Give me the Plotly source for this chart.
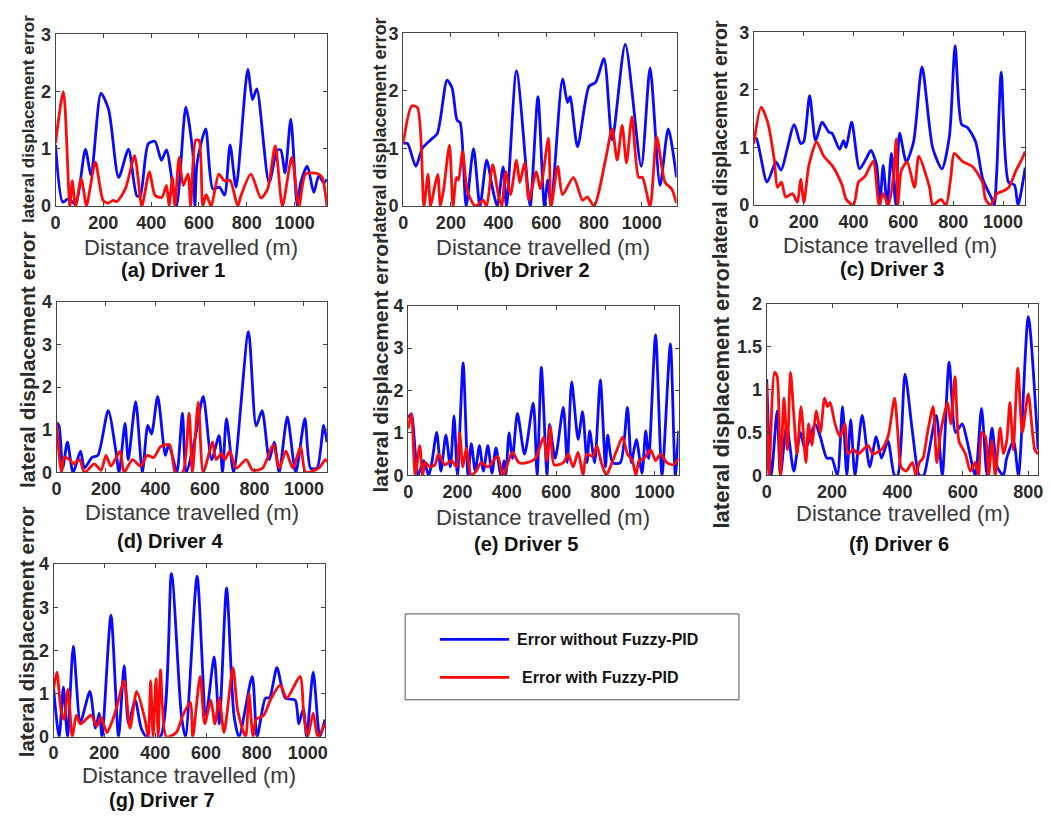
import plotly.graph_objects as go

# ---------------- data ----------------
# Driver 1
d1_x_wo = [0, 30, 50, 64, 85, 125, 149, 190, 222, 264, 305, 340, 354, 388, 416, 443, 464, 506, 545, 575, 583, 592, 628, 658, 686, 707, 730, 755, 804, 824, 842, 893, 928, 942, 960, 984, 1011, 1025, 1053, 1080, 1101, 1122, 1135]
d1_y_wo = [1.07, 0.07, 0.12, 0.10, 0.03, 0.99, 0.54, 1.97, 1.69, 0.50, 0.99, 0.18, 0.18, 1.09, 1.13, 0.80, 0.98, 0.00, 1.73, 0.90, 0.00, 0.75, 1.35, 0.30, 0.33, 0.19, 1.07, 0.33, 2.39, 1.86, 2.05, 0.41, 0.98, 0.98, 0.58, 1.52, 0.00, 0.40, 0.70, 0.24, 0.53, 0.41, 0.47]
d1_x_w = [0, 33, 60, 70, 84, 107, 130, 144, 167, 199, 220, 240, 256, 292, 331, 345, 361, 393, 416, 444, 464, 475, 489, 499, 517, 534, 554, 565, 586, 600, 616, 630, 651, 683, 707, 730, 762, 776, 817, 859, 887, 919, 949, 988, 1018, 1046, 1094, 1115, 1135]
d1_y_w = [1.10, 2.00, 0.00, 0.44, 0.00, 0.48, 0.00, 0.30, 0.77, 0.10, 0.05, 0.10, 0.08, 0.30, 0.88, 0.50, 0.00, 0.60, 0.19, 0.15, 0.36, 0.00, 0.50, 0.00, 0.85, 0.36, 0.56, 0.00, 1.15, 1.15, 0.00, 0.20, 0.00, 0.56, 0.44, 0.45, 0.00, 0.19, 0.56, 0.14, 0.30, 1.05, 0.00, 0.85, 0.00, 0.56, 0.57, 0.50, 0.00]

# Driver 2
d2_x_wo = [0, 18, 53, 80, 115, 143, 184, 205, 226, 239, 264, 295, 322, 350, 375, 394, 419, 433, 475, 523, 533, 565, 592, 606, 620, 668, 689, 700, 731, 779, 807, 842, 876, 931, 998, 1035, 1077, 1111, 1146]
d2_y_wo = [1.09, 1.09, 0.69, 1.00, 1.15, 1.26, 2.19, 2.05, 1.49, 1.45, 0.00, 1.00, 0.00, 0.80, 0.30, 0.00, 0.68, 0.00, 2.35, 0.30, 0.00, 1.90, 0.00, 0.45, 0.00, 2.21, 1.80, 1.90, 1.03, 2.08, 2.15, 2.56, 1.15, 2.81, 0.69, 2.40, 0.36, 1.34, 0.50]
d2_x_w = [0, 36, 60, 87, 104, 115, 130, 145, 156, 170, 194, 209, 223, 232, 249, 267, 285, 302, 336, 350, 375, 399, 413, 430, 450, 475, 489, 509, 527, 558, 575, 609, 620, 648, 668, 714, 752, 772, 800, 848, 876, 897, 918, 936, 959, 987, 1003, 1035, 1063, 1098, 1125, 1146]
d2_y_w = [1.09, 1.74, 1.71, 0.00, 0.55, 0.00, 0.30, 0.55, 0.00, 0.30, 1.06, 0.00, 0.50, 0.45, 0.95, 0.30, 0.10, 0.00, 0.10, 0.00, 0.72, 0.20, 0.00, 0.60, 0.20, 0.80, 0.41, 0.75, 0.10, 0.60, 0.30, 1.18, 0.00, 0.69, 0.20, 0.50, 0.10, 0.16, 0.00, 0.80, 1.34, 0.80, 1.40, 0.75, 1.55, 0.50, 0.50, 0.00, 1.20, 0.41, 0.30, 0.05]

# Driver 3
d3_x_wo = [0, 10, 53, 89, 109, 162, 188, 200, 224, 248, 274, 301, 314, 344, 360, 370, 393, 424, 450, 470, 493, 506, 519, 535, 552, 570, 585, 612, 641, 675, 718, 755, 785, 808, 834, 857, 890, 919, 956, 965, 975, 993, 1022, 1046, 1060, 1089]
d3_y_wo = [1.16, 1.16, 0.40, 0.75, 0.61, 1.40, 1.07, 1.10, 1.90, 1.12, 1.44, 1.27, 1.25, 0.97, 1.12, 1.00, 1.44, 0.63, 0.80, 0.95, 0.69, 0.00, 0.69, 0.00, 0.90, 0.00, 1.25, 0.75, 1.10, 2.40, 0.99, 0.63, 1.20, 2.77, 1.40, 1.35, 1.10, 0.45, 0.10, 0.00, 0.60, 2.31, 0.40, 0.35, 0.00, 0.65]
d3_x_w = [0, 29, 55, 82, 95, 111, 128, 155, 175, 188, 201, 221, 252, 281, 314, 354, 371, 400, 420, 446, 479, 503, 519, 540, 559, 572, 578, 592, 615, 645, 662, 705, 718, 751, 771, 791, 804, 837, 877, 917, 930, 950, 976, 1003, 1023, 1052, 1075, 1089]
d3_y_w = [1.07, 1.70, 1.45, 0.79, 0.31, 0.40, 0.14, 0.20, 0.05, 0.45, 0.05, 0.69, 1.10, 0.85, 0.69, 0.35, 0.10, 0.00, 0.40, 0.50, 0.76, 0.00, 0.20, 0.00, 0.45, 1.15, 0.00, 0.60, 0.75, 0.31, 0.85, 0.31, 0.00, 0.10, 0.00, 0.50, 0.90, 0.76, 0.67, 0.40, 0.10, 0.00, 0.20, 0.25, 0.31, 0.60, 0.79, 0.93]

# Driver 4
d4_x_wo = [0, 10, 25, 44, 67, 97, 113, 143, 167, 209, 240, 253, 277, 290, 320, 347, 369, 384, 409, 440, 453, 470, 487, 509, 524, 560, 593, 627, 657, 671, 687, 716, 776, 807, 831, 860, 880, 900, 933, 967, 1004, 1027, 1053, 1080, 1093]
d4_y_wo = [1.17, 1.10, 0.10, 0.71, 0.00, 0.50, 0.10, 0.35, 0.40, 1.45, 0.50, 0.00, 1.15, 0.30, 1.66, 0.00, 1.10, 0.90, 1.78, 0.40, 0.65, 0.35, 0.00, 1.39, 0.00, 0.80, 1.78, 0.30, 0.86, 0.00, 1.26, 0.00, 3.30, 1.09, 1.45, 0.30, 0.71, 0.00, 1.30, 0.00, 1.26, 0.10, 0.10, 1.10, 0.71]
d4_x_w = [0, 20, 31, 53, 70, 93, 113, 153, 180, 200, 220, 257, 273, 307, 340, 367, 393, 420, 457, 470, 480, 510, 536, 549, 573, 593, 631, 645, 667, 680, 700, 727, 767, 793, 833, 876, 900, 927, 955, 987, 1007, 1060, 1087, 1093]
d4_y_w = [1.17, 0.00, 0.35, 0.30, 0.20, 0.30, 0.00, 0.20, 0.05, 0.40, 0.15, 0.50, 0.00, 0.30, 0.15, 0.40, 0.35, 0.60, 0.65, 0.30, 0.00, 0.00, 1.39, 0.00, 1.65, 0.00, 0.71, 0.30, 0.45, 0.30, 0.50, 0.10, 0.30, 0.05, 0.10, 0.65, 0.10, 0.50, 0.10, 0.60, 0.00, 0.10, 0.30, 0.25]

# Driver 5
d5_x_wo = [0, 13, 40, 63, 83, 96, 116, 133, 153, 171, 186, 200, 223, 243, 256, 272, 289, 305, 323, 340, 356, 376, 389, 396, 409, 423, 443, 472, 507, 523, 540, 563, 573, 596, 629, 645, 663, 689, 707, 725, 736, 756, 779, 800, 809, 829, 860, 889, 905, 925, 948, 963, 975, 1003, 1029, 1063, 1083, 1096]
d5_y_wo = [1.35, 1.45, 0.00, 0.35, 0.00, 0.30, 1.01, 0.10, 0.95, 0.20, 1.40, 0.00, 2.65, 0.00, 0.75, 0.10, 0.70, 0.10, 0.70, 0.05, 0.65, 0.00, 0.35, 0.00, 1.00, 0.40, 1.46, 0.50, 1.70, 0.00, 2.55, 0.00, 1.20, 0.40, 1.60, 0.30, 2.20, 0.85, 1.50, 0.30, 1.05, 0.30, 2.25, 0.20, 0.95, 0.30, 0.30, 1.60, 0.30, 0.85, 0.05, 1.05, 0.40, 3.31, 0.00, 3.10, 0.00, 1.05]
d5_x_w = [0, 13, 29, 47, 59, 69, 89, 109, 123, 149, 176, 196, 209, 222, 236, 256, 276, 296, 323, 363, 383, 396, 423, 449, 483, 516, 549, 563, 576, 592, 629, 649, 669, 689, 709, 723, 749, 765, 783, 803, 816, 843, 869, 889, 909, 923, 936, 956, 983, 1003, 1023, 1049, 1076, 1096]
d5_y_w = [1.10, 1.46, 0.00, 0.70, 0.00, 0.30, 0.20, 0.25, 0.50, 0.25, 0.35, 0.20, 1.00, 0.20, 0.65, 0.00, 0.10, 0.30, 0.20, 0.45, 0.00, 0.15, 0.55, 0.30, 0.30, 0.40, 0.90, 0.35, 1.15, 0.25, 0.30, 0.50, 0.20, 0.55, 0.00, 0.50, 0.45, 0.70, 0.30, 0.00, 0.15, 0.55, 0.90, 0.50, 0.35, 0.00, 0.35, 0.40, 0.60, 0.35, 0.50, 0.30, 0.25, 0.40]

# Driver 6
d6_x_wo = [0, 14, 32, 42, 61, 83, 103, 118, 148, 164, 184, 199, 216, 232, 245, 257, 270, 292, 315, 335, 351, 371, 391, 401, 423, 446, 467, 480, 495, 519, 537, 558, 578, 598, 613, 638, 657, 674, 689, 705, 724, 734, 755, 770, 800, 830]
d6_y_wo = [1.12, 0.00, 0.75, 0.00, 0.58, 0.05, 0.50, 0.30, 0.60, 0.45, 0.20, 0.20, 0.00, 0.80, 0.00, 0.65, 0.00, 0.70, 0.10, 0.45, 0.20, 0.40, 0.00, 0.00, 1.18, 0.50, 0.00, 0.00, 0.25, 0.70, 0.00, 1.32, 0.50, 0.60, 0.40, 0.00, 0.78, 0.00, 0.55, 0.10, 0.00, 0.20, 0.40, 0.00, 1.85, 0.30]
d6_x_w = [0, 7, 24, 32, 42, 53, 63, 73, 83, 93, 105, 120, 128, 138, 152, 164, 177, 186, 194, 209, 224, 239, 249, 265, 280, 295, 310, 325, 351, 371, 391, 401, 411, 426, 446, 456, 467, 478, 492, 509, 520, 532, 553, 563, 576, 588, 608, 623, 638, 648, 658, 669, 679, 689, 699, 714, 724, 734, 744, 754, 768, 782, 800, 820, 830]
d6_y_w = [1.08, 0.00, 1.20, 1.15, 0.00, 0.90, 0.30, 1.20, 0.70, 0.25, 0.80, 0.15, 0.60, 0.35, 0.75, 0.50, 0.90, 0.80, 0.85, 0.60, 0.45, 0.60, 0.25, 0.30, 0.25, 0.30, 0.35, 0.25, 0.30, 0.45, 0.90, 0.50, 0.10, 0.05, 0.15, 0.00, 0.15, 0.20, 0.50, 0.80, 0.15, 0.50, 0.85, 0.60, 1.15, 0.40, 0.25, 0.05, 0.15, 0.00, 0.50, 0.45, 0.00, 0.40, 0.00, 0.55, 0.25, 0.40, 0.85, 0.30, 1.25, 0.50, 0.95, 0.30, 0.25]

# Driver 7
d7_x_wo = [0, 22, 39, 55, 78, 106, 143, 165, 180, 191, 226, 256, 278, 295, 321, 345, 366, 420, 464, 503, 519, 565, 600, 632, 652, 681, 710, 730, 782, 801, 834, 850, 879, 912, 951, 965, 983, 996, 1022, 1048, 1068]
d7_y_wo = [1.13, 0.00, 1.15, 0.00, 2.10, 0.35, 1.05, 0.20, 0.55, 0.00, 2.82, 0.00, 1.65, 0.30, 0.85, 0.20, 0.00, 0.00, 3.78, 0.50, 0.00, 3.72, 0.50, 1.85, 0.30, 3.45, 0.50, 0.00, 1.40, 0.00, 0.90, 0.90, 1.60, 0.90, 0.85, 0.30, 0.65, 0.00, 1.50, 0.00, 0.40]
d7_x_w = [0, 13, 30, 42, 57, 74, 90, 106, 148, 170, 187, 210, 230, 249, 278, 301, 327, 360, 373, 382, 392, 403, 412, 421, 444, 483, 509, 538, 548, 577, 595, 619, 635, 652, 671, 706, 725, 756, 769, 785, 797, 827, 857, 892, 918, 970, 985, 1000, 1022, 1040, 1068]
d7_y_w = [1.10, 1.50, 0.60, 0.40, 1.10, 0.00, 0.50, 0.30, 0.50, 0.25, 0.45, 0.10, 0.35, 0.70, 1.30, 0.20, 1.05, 0.40, 0.00, 1.30, 0.00, 1.35, 0.00, 1.55, 0.00, 0.10, 0.50, 0.80, 0.00, 1.40, 0.30, 0.85, 0.30, 0.90, 0.10, 1.60, 0.60, 0.00, 1.00, 0.00, 0.40, 0.50, 0.90, 1.20, 0.90, 1.40, 0.50, 0.00, 0.55, 0.00, 0.30]

captions = ["(a) Driver 1", "(b) Driver 2", "(c) Driver 3", "(d) Driver 4",
            "(e) Driver 5", "(f) Driver 6", "(g) Driver 7"]
x_ticks_long = [0, 200, 400, 600, 800, 1000]
x_ticks_short = [0, 200, 400, 600, 800]
y_ticks_3 = [0, 1, 2, 3]
y_ticks_4 = [0, 1, 2, 3, 4]
y_ticks_2 = [0, 0.5, 1, 1.5, 2]
legend_names = ["Error without Fuzzy-PID", "Error with Fuzzy-PID"]

series = [
    (d1_x_wo, d1_y_wo, d1_x_w, d1_y_w),
    (d2_x_wo, d2_y_wo, d2_x_w, d2_y_w),
    (d3_x_wo, d3_y_wo, d3_x_w, d3_y_w),
    (d4_x_wo, d4_y_wo, d4_x_w, d4_y_w),
    (d5_x_wo, d5_y_wo, d5_x_w, d5_y_w),
    (d6_x_wo, d6_y_wo, d6_x_w, d6_y_w),
    (d7_x_wo, d7_y_wo, d7_x_w, d7_y_w),
]

# ---------------- layout geometry (pixels) ----------------
W, H = 1051, 821
# left, right, top, bottom of each plot area
boxes = [
    (51, 325, 25, 201),
    (402, 678, 24, 201),
    (756, 1030, 23, 200),
    (52, 325, 299, 474),
    (407, 680, 303, 477),
    (769, 1043, 301, 477),
    (49, 323, 568, 745),
]
x_ranges = [1135, 1146, 1089, 1093, 1096, 830, 1068]
y_ranges = [3, 3, 3, 4, 4, 2, 4]
y_tick_sets = [y_ticks_3, y_ticks_3, y_ticks_3, y_ticks_4, y_ticks_4, y_ticks_2, y_ticks_4]
x_tick_sets = [x_ticks_long] * 5 + [x_ticks_short] + [x_ticks_long]
# annotation positions (pixels) and y-label sizes (sub-figures were scaled differently)
ylab_pos = [(23, 112), (379, 120), (722, 133), (22, 358), (379, 363), (723, 394), (22, 637)]
ylab_size = [17, 18, 19.5, 21, 21, 22, 20.5]
xtitle_pos = [(188, 243), (543, 243), (893, 241), (189, 515), (543, 520), (907, 516), (186, 785)]
caption_pos = [(170, 267), (537, 266), (896, 265), (167, 544), (527, 547), (903, 547), (159, 810)]

BLUE = "#0a0aff"
RED = "#ff0a0a"
FONT = "Liberation Sans, Arial, sans-serif"
AX_COL = "#444444"
TXT_COL = "#2a2a2a"
LW = 2.8

fig = go.Figure()
layout = {}
annotations = []

def px(x):
    return x / W

def py(y):
    return 1 - y / H

for i, (xs_wo, ys_wo, xs_w, ys_w) in enumerate(series):
    n = i + 1
    xa = "x" if n == 1 else f"x{n}"
    ya = "y" if n == 1 else f"y{n}"
    l, r, t, b = boxes[i]
    fig.add_trace(go.Scatter(x=xs_wo, y=ys_wo, mode="lines", xaxis=xa, yaxis=ya,
                             line=dict(color=BLUE, width=LW, shape="spline", smoothing=0.7),
                             name=legend_names[0], showlegend=False, hoverinfo="skip"))
    fig.add_trace(go.Scatter(x=xs_w, y=ys_w, mode="lines", xaxis=xa, yaxis=ya,
                             line=dict(color=RED, width=LW, shape="spline", smoothing=0.7),
                             name=legend_names[1], showlegend=False, hoverinfo="skip"))
    tickfont = dict(family=FONT, size=18, color=TXT_COL, weight="bold")
    layout[f"xaxis{'' if n == 1 else n}"] = dict(
        domain=[px(l), px(r)], anchor=ya, range=[0, x_ranges[i]],
        tickvals=x_tick_sets[i], ticks="inside", ticklen=4, tickcolor=AX_COL,
        showline=True, linecolor=AX_COL, linewidth=1, mirror="ticks",
        showgrid=False, zeroline=False, tickfont=tickfont, fixedrange=True)
    layout[f"yaxis{'' if n == 1 else n}"] = dict(
        domain=[py(b), py(t)], anchor=xa, range=[0, y_ranges[i]],
        tickvals=y_tick_sets[i], ticks="inside", ticklen=4, tickcolor=AX_COL,
        showline=True, linecolor=AX_COL, linewidth=1, mirror="ticks",
        showgrid=False, zeroline=False, tickfont=tickfont, fixedrange=True)
    yx, yy = ylab_pos[i]
    annotations.append(dict(text="lateral displacement error", x=px(yx), y=py(yy),
                            xref="paper", yref="paper", showarrow=False, textangle=-90,
                            xanchor="center", yanchor="middle",
                            font=dict(family=FONT, size=ylab_size[i], color=TXT_COL, weight="bold")))
    tx, ty = xtitle_pos[i]
    annotations.append(dict(text="Distance travelled (m)", x=px(tx), y=py(ty),
                            xref="paper", yref="paper", showarrow=False,
                            xanchor="center", yanchor="middle",
                            font=dict(family=FONT, size=22, color="#3a3a3a")))
    cx, cy = caption_pos[i]
    annotations.append(dict(text=captions[i], x=px(cx), y=py(cy),
                            xref="paper", yref="paper", showarrow=False,
                            xanchor="center", yanchor="middle",
                            font=dict(family=FONT, size=20, color="#111111", weight="bold")))

# legend box (drawn)
shapes = [
    dict(type="rect", xref="paper", yref="paper", x0=px(404), x1=px(741), y0=py(707), y1=py(619),
         line=dict(color="#555555", width=1), fillcolor="white"),
    dict(type="line", xref="paper", yref="paper", x0=px(439), x1=px(509), y0=py(645), y1=py(645),
         line=dict(color=BLUE, width=LW)),
    dict(type="line", xref="paper", yref="paper", x0=px(439), x1=px(509), y0=py(684), y1=py(684),
         line=dict(color=RED, width=LW)),
]
annotations.append(dict(text=legend_names[0], x=px(515), y=py(645), xref="paper", yref="paper",
                        showarrow=False, xanchor="left", yanchor="middle",
                        font=dict(family=FONT, size=16, color="#111111", weight="bold")))
annotations.append(dict(text=legend_names[1], x=px(520), y=py(684), xref="paper", yref="paper",
                        showarrow=False, xanchor="left", yanchor="middle",
                        font=dict(family=FONT, size=16, color="#111111", weight="bold")))

fig.update_layout(**layout)
fig.update_layout(width=W, height=H, margin=dict(l=0, r=0, t=0, b=0),
                  paper_bgcolor="white", plot_bgcolor="white",
                  annotations=annotations, shapes=shapes, showlegend=False)

fig.write_html("out.html", config={"displayModeBar": False})
